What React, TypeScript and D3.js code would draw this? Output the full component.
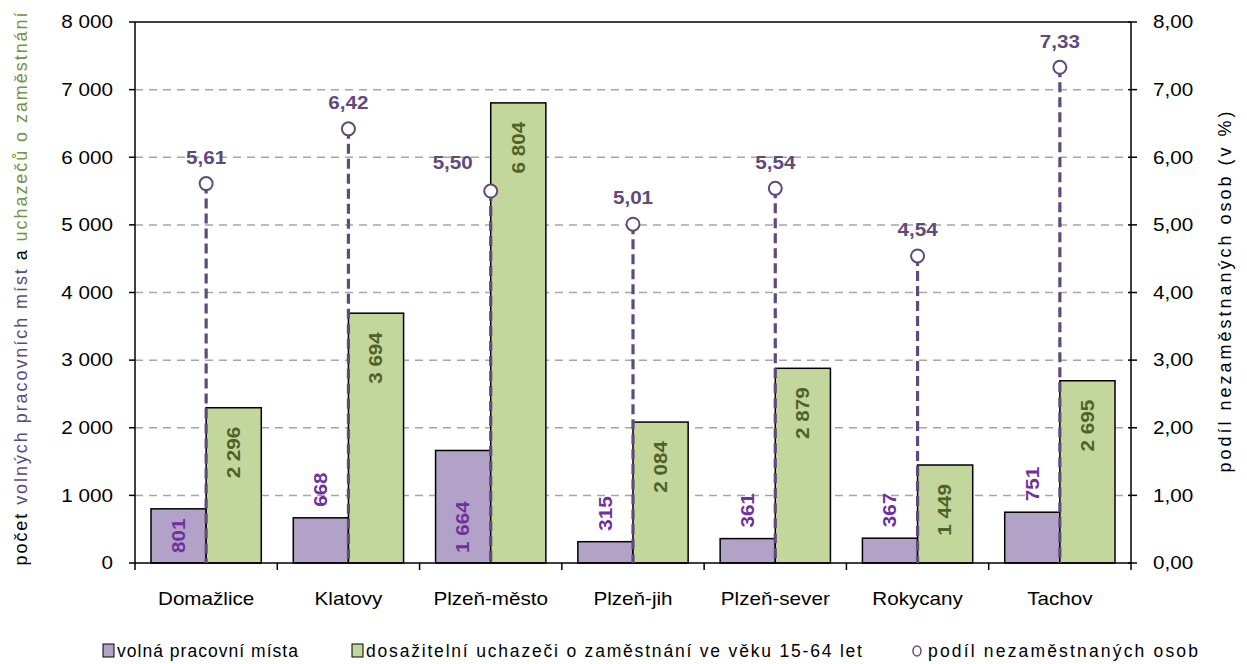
import React from 'react';
import * as d3 from 'd3';

const categories = ['Domažlice', 'Klatovy', 'Plzeň-město', 'Plzeň-jih', 'Plzeň-sever', 'Rokycany', 'Tachov'];
const volnaMista = [801, 668, 1664, 315, 361, 367, 751];
const uchazeci = [2296, 3694, 6804, 2084, 2879, 1449, 2695];
const podil = [5.61, 6.42, 5.5, 5.01, 5.54, 4.54, 7.33];
const leftTicks = [0, 1000, 2000, 3000, 4000, 5000, 6000, 7000, 8000];
const rightTicks = [0, 1, 2, 3, 4, 5, 6, 7, 8];

const FONT = '"Liberation Sans", Arial, sans-serif';
const PURPLE_FILL = '#b3a2c7';
const GREEN_FILL = '#c3d69b';
const PURPLE_LINE = '#604a7b';
const PURPLE_TEXT = '#7030a0';
const GREEN_TEXT = '#4f6228';
const SX = 1.18; // the source chart's text is a bit stretched horizontally

const W = 1247;
const H = 664;
const plot = { left: 135, right: 1131, top: 22, bottom: 563 };

const fmtInt = (v: number) => d3.format(',')(v).replace(/,/g, ' ');
const fmtDec = (v: number) => v.toFixed(2).replace('.', ',');

type TProps = {
  x: number; y: number; rot?: number; anchor?: string; size?: number;
  bold?: boolean; fill?: string; children: React.ReactNode;
};
const T = ({ x, y, rot = 0, anchor = 'middle', size = 17, bold, fill = '#000', children }: TProps) => (
  <text transform={`translate(${x},${y}) rotate(${rot}) scale(${SX},1)`} dy="0.36em" textAnchor={anchor}
    fontSize={size} fontWeight={bold ? 'bold' : 'normal'} fill={fill}>
    {children}
  </text>
);

export default function App() {
  const x = d3.scaleBand<string>().domain(categories).range([plot.left, plot.right]);
  const bw = x.bandwidth();
  const xSub = d3.scaleBand<string>().domain(['v', 'u']).range([16, bw - 16]);
  const sw = xSub.bandwidth();
  const yL = d3.scaleLinear().domain([0, 8000]).range([plot.bottom, plot.top]);
  const yR = d3.scaleLinear().domain([0, 8]).range([plot.bottom, plot.top]);

  return (
    <svg width={W} height={H} style={{ position: 'absolute', left: 0, top: 0, background: '#fff' }} fontFamily={FONT}>
      {/* gridlines */}
      {leftTicks.slice(1, -1).map(t => (
        <line key={t} x1={plot.left} x2={plot.right} y1={yL(t)} y2={yL(t)}
          stroke="#a6a6a6" strokeWidth={1.5} strokeDasharray="8,6" />
      ))}

      {/* bars */}
      {categories.map((c, i) => {
        const x0 = x(c)!;
        return (
          <g key={c}>
            <rect x={x0 + xSub('v')!} y={yL(volnaMista[i])} width={sw} height={plot.bottom - yL(volnaMista[i])}
              fill={PURPLE_FILL} stroke="#000" strokeWidth={1.5} />
            <rect x={x0 + xSub('u')!} y={yL(uchazeci[i])} width={sw} height={plot.bottom - yL(uchazeci[i])}
              fill={GREEN_FILL} stroke="#000" strokeWidth={1.5} />
          </g>
        );
      })}

      {/* frame */}
      <line x1={plot.left} x2={plot.right} y1={plot.top} y2={plot.top} stroke="#000" strokeWidth={1.5} />
      <line x1={plot.left} x2={plot.left} y1={plot.top} y2={plot.bottom} stroke="#000" strokeWidth={1.5} />
      <line x1={plot.right} x2={plot.right} y1={plot.top} y2={plot.bottom} stroke="#000" strokeWidth={1.5} />
      <line x1={plot.left} x2={plot.right} y1={plot.bottom} y2={plot.bottom} stroke="#000" strokeWidth={1.5} />

      {/* left axis */}
      {leftTicks.map(t => (
        <g key={t}>
          <line x1={plot.left - 6} x2={plot.left} y1={yL(t)} y2={yL(t)} stroke="#000" strokeWidth={1.5} />
          <T x={113} y={yL(t)} anchor="end" size={17.5}>{fmtInt(t)}</T>
        </g>
      ))}
      {/* right axis */}
      {rightTicks.map(t => (
        <g key={t}>
          <line x1={plot.right - 3} x2={plot.right + 6} y1={yR(t)} y2={yR(t)} stroke="#000" strokeWidth={1.5} />
          <T x={1153} y={yR(t)} anchor="start" size={17.5}>{fmtDec(t)}</T>
        </g>
      ))}
      {/* category ticks and labels */}
      {categories.map(c => (
        <line key={'t' + c} x1={x(c)!} x2={x(c)!} y1={plot.bottom} y2={plot.bottom + 7} stroke="#000" strokeWidth={1.5} />
      ))}
      <line x1={plot.right} x2={plot.right} y1={plot.bottom} y2={plot.bottom + 7} stroke="#000" strokeWidth={1.5} />
      {categories.map(c => (
        <T key={'l' + c} x={x(c)! + bw / 2} y={599} size={17.5}>{c}</T>
      ))}

      {/* dropped lines and markers */}
      {categories.map((c, i) => {
        const cx = x(c)! + bw / 2;
        const cy = yR(podil[i]);
        return (
          <g key={'p' + c}>
            <line x1={cx} x2={cx} y1={cy} y2={plot.bottom} stroke={PURPLE_LINE} strokeWidth={3.2} strokeDasharray="10,5" />
            <circle cx={cx} cy={cy} r={6.5} fill="#fff" stroke={PURPLE_LINE} strokeWidth={2} />
          </g>
        );
      })}

      {/* bar value labels */}
      {categories.map((c, i) => {
        const x0 = x(c)!;
        const vx = x0 + xSub('v')! + sw / 2;
        const ux = x0 + xSub('u')! + sw / 2;
        const vTop = yL(volnaMista[i]);
        const inside = plot.bottom - vTop >= 52;
        const vy = inside ? plot.bottom - 10 : vTop - 11;
        const uy = yL(uchazeci[i]) + 19;
        return (
          <g key={'v' + c}>
            <T x={vx} y={vy} rot={-90} anchor="start" size={17.5} bold fill={PURPLE_TEXT}>{fmtInt(volnaMista[i])}</T>
            <T x={ux} y={uy} rot={-90} anchor="end" size={17.5} bold fill={GREEN_TEXT}>{fmtInt(uchazeci[i])}</T>
          </g>
        );
      })}

      {/* point labels */}
      {categories.map((c, i) => {
        const cx = x(c)! + bw / 2;
        const cy = yR(podil[i]);
        const left = c === 'Plzeň-město';
        return (
          <T key={'pl' + c} x={left ? cx - 38 : cx} y={left ? cy - 28 : cy - 26} size={17.5} bold fill={PURPLE_LINE}>
            {fmtDec(podil[i])}
          </T>
        );
      })}

      {/* axis titles */}
      <text transform="translate(27,289) rotate(-90)" textAnchor="middle" fontSize={18}
        textLength={553} lengthAdjust="spacing">
        <tspan fill="#000">počet </tspan>
        <tspan fill={PURPLE_LINE}>volných pracovních míst</tspan>
        <tspan fill="#000"> a </tspan>
        <tspan fill="#77933c">uchazečů o zaměstnání</tspan>
      </text>
      <text transform="translate(1231,292) rotate(-90)" textAnchor="middle" fontSize={18}
        textLength={361} lengthAdjust="spacing">
        podíl nezaměstnaných osob (v %)
      </text>

      {/* legend */}
      <g fontSize={17.5}>
        <rect x={103} y={644} width={11} height={13} fill={PURPLE_FILL} stroke="#000" strokeWidth={1} />
        <text x={117} y={651} dy="0.36em" textLength={181} lengthAdjust="spacing">volná pracovní místa</text>
        <rect x={352} y={644} width={11} height={13} fill={GREEN_FILL} stroke="#000" strokeWidth={1} />
        <text x={366} y={651} dy="0.36em" textLength={496} lengthAdjust="spacing">dosažitelní uchazeči o zaměstnání ve věku 15-64 let</text>
        <ellipse cx={917} cy={651} rx={4} ry={5} fill="#fff" stroke={PURPLE_LINE} strokeWidth={1.5} />
        <text x={928} y={651} dy="0.36em" textLength={270} lengthAdjust="spacing">podíl nezaměstnaných osob</text>
      </g>
    </svg>
  );
}
